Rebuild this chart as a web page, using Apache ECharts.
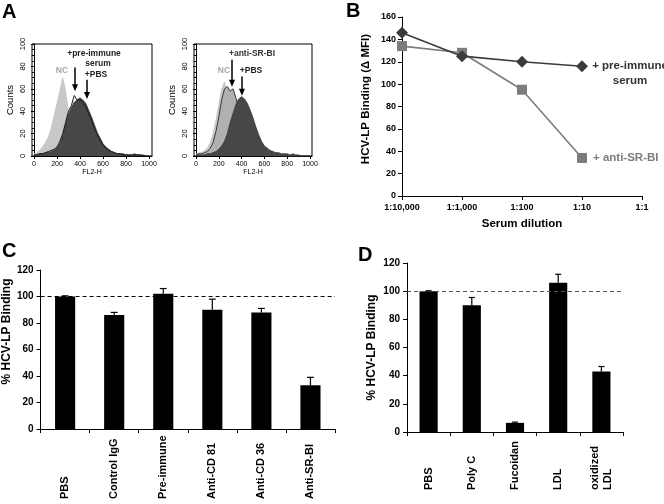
<!DOCTYPE html>
<html><head><meta charset="utf-8">
<script src="https://cdn.jsdelivr.net/npm/echarts@6/dist/echarts.min.js"></script>
<style>html,body{margin:0;padding:0;background:#fff}#c{width:664px;height:504px}</style>
</head><body><div id="c"></div>
<script>
const F = '"Liberation Sans", Arial, Helvetica, sans-serif';

// ---------- Panel A: flow cytometry histograms (FL2-H bins) ----------
const histBins = [0,25,50,75,100,125,150,175,200,225,250,275,300,325,350,375,400,425,450,475,500,525,550,575,600,625,650,675,700,725,750,775,800,825,850,875,900,925,950,975,1000];
const histTicks = [0,200,400,600,800,1000];
const leftNC      = [2,3,5,8,12,17,25,36,47,58,70,58,40,22,10,4,2,1,0,0,0,0,0,0,0,0,0,0,0,0,0,0,0,0,0,0,0,0,0,0,0];
const leftPBS     = [1,1,2,2,3,3,4,5,7,11,18,28,37,43,48,50,52,50,47,41,35,28,21,16,11,8,6,4,3,2,2,2,1,1,1,2,1,1,1,0,0];
const leftPre     = [1,1,2,2,3,4,5,6,8,13,20,30,40,45,54,50,50,48,44,38,32,25,19,14,10,7,5,4,3,2,2,1,1,1,1,1,1,1,0,0,0];
const rightNC     = [2,3,3,5,7,12,20,32,46,60,66,55,40,25,13,6,3,1,0,0,0,0,0,0,0,0,0,0,0,0,0,0,0,0,0,0,0,0,0,0,0];
const rightAnti   = [1,2,2,3,4,7,12,22,35,50,60,62,58,60,52,42,33,25,18,12,8,6,4,3,2,2,1,1,1,1,0,0,0,0,0,0,0,0,0,0,0];
const rightPBS    = [1,1,1,1,2,2,3,4,6,9,13,20,30,38,46,51,53,51,47,41,34,26,19,13,9,7,5,4,3,3,2,2,2,1,2,1,1,0,0,0,0];

// ---------- Panel B: binding vs serum dilution ----------
const dilutions = ['1:10,000','1:1,000','1:100','1:10','1:1'];
const bPreImmune = [146,125,120,116];
const bAntiSRBI  = [134,128,95,34];

// ---------- Panel C ----------
const cCats = ['PBS','Control IgG','Pre-immune','Anti-CD 81','Anti-CD 36','Anti-SR-BI'];
const cVals = [100,86,102,90,88,33];
const cErr  = [0.5,2,4,8,3,6];

// ---------- Panel D ----------
const dCats = ['PBS','Poly C','Fucoidan','LDL','oxidized\nLDL'];
const dVals = [100,90,6.5,106,43];
const dErr  = [0.3,5.5,0.5,6,3.5];

const zip = (xs, ys) => xs.map((x, i) => [x, ys[i]]);

function errRender(params, api) {
  const x = api.value(0), v = api.value(1), e = api.value(2);
  const p1 = api.coord([x, v]);
  const p2 = api.coord([x, v + e]);
  const hw = api.size([1, 0])[0] * 0.07;
  const st = {stroke: '#000', lineWidth: 1.2};
  return {type: 'group', children: [
    {type: 'line', shape: {x1: p1[0], y1: p1[1], x2: p2[0], y2: p2[1]}, style: st},
    {type: 'line', shape: {x1: p2[0] - hw, y1: p2[1], x2: p2[0] + hw, y2: p2[1]}, style: st}
  ]};
}

const axLine = {show: true, lineStyle: {color: '#000', width: 1}};
const boldLbl = (sz) => ({color: '#000', fontFamily: F, fontWeight: 'bold', fontSize: sz});

function histX(gi, min, max) {
  return {gridIndex: gi, type: 'value', min: min, max: max,
    axisLine: axLine, splitLine: {show: false},
    axisTick: {show: true, length: 3, customValues: histTicks, lineStyle: {color: '#000'}},
    axisLabel: {customValues: histTicks, formatter: (v) => String(Math.round(v)), margin: 5, color: '#000', fontFamily: F, fontSize: 7},
    name: 'FL2-H', nameLocation: 'middle', nameGap: 12,
    nameTextStyle: {color: '#000', fontFamily: F, fontSize: 7}};
}
function histY(gi) {
  return {gridIndex: gi, type: 'value', min: 0, max: 100, interval: 20,
    axisLine: axLine, splitLine: {show: false},
    axisTick: {show: true, length: 3, lineStyle: {color: '#000'}},
    minorTick: {show: true, splitNumber: 4, length: 2, lineStyle: {color: '#000'}},
    axisLabel: {rotate: 90, margin: 5, color: '#000', fontFamily: F, fontSize: 7.5},
    name: 'Counts', nameLocation: 'middle', nameGap: 17,
    nameTextStyle: {color: '#000', fontFamily: F, fontSize: 9.5}};
}
function histSeries(gi, data, fill, line, lw, z) {
  const s = {type: 'line', xAxisIndex: gi, yAxisIndex: gi, data: zip(histBins, data),
    symbol: 'none', smooth: false, z: z,
    lineStyle: {color: line, width: lw}};
  if (fill) s.areaStyle = {color: fill, opacity: 1};
  return s;
}
function arrowLine(gi, x, y1, y2) {
  return {type: 'line', xAxisIndex: gi, yAxisIndex: gi, data: [], z: 10,
    markLine: {silent: true, symbol: ['none', 'triangle'], symbolSize: [6, 7],
      lineStyle: {color: '#000', width: 1.5, type: 'solid'}, label: {show: false},
      data: [[{coord: [x, y1]}, {coord: [x, y2]}]]}};
}

const chart = echarts.init(document.getElementById('c'), null, {renderer: 'canvas'});
chart.setOption({
  animation: false,
  backgroundColor: '#fff',
  grid: [
    {left: 32, top: 44, width: 120, height: 112, show: true, borderColor: '#000', borderWidth: 1},
    {left: 194, top: 44, width: 118, height: 112, show: true, borderColor: '#000', borderWidth: 1},
    {left: 402, top: 17, width: 240, height: 179},
    {left: 40, top: 270, width: 295, height: 159},
    {left: 407, top: 263, width: 216, height: 169}
  ],
  xAxis: [
    histX(0, -17, 1026),
    histX(1, -17.5, 1017.5),
    {gridIndex: 2, type: 'category', data: dilutions, boundaryGap: false,
      axisLine: axLine, axisTick: {show: true, length: 4, alignWithLabel: true, lineStyle: {color: '#000'}},
      axisLabel: Object.assign({interval: 0, margin: 7}, boldLbl(9)),
      name: 'Serum dilution', nameLocation: 'middle', nameGap: 22,
      nameTextStyle: boldLbl(11.5)},
    {gridIndex: 3, type: 'category', data: cCats,
      axisLine: axLine, axisTick: {show: true, length: 4, lineStyle: {color: '#000'}},
      axisLabel: Object.assign({interval: 0, rotate: 90, align: 'left', margin: 70}, boldLbl(11))},
    {gridIndex: 4, type: 'category', data: dCats,
      axisLine: axLine, axisTick: {show: true, length: 4, lineStyle: {color: '#000'}},
      axisLabel: Object.assign({interval: 0, rotate: 90, align: 'left', margin: 58, lineHeight: 13}, boldLbl(11))}
  ],
  yAxis: [
    histY(0), histY(1),
    {gridIndex: 2, type: 'value', min: 0, max: 160, interval: 20,
      axisLine: axLine, splitLine: {show: false},
      axisTick: {show: true, length: 4, lineStyle: {color: '#000'}},
      axisLabel: Object.assign({margin: 6}, boldLbl(9)),
      name: 'HCV-LP Binding (\u0394 MFI)', nameLocation: 'middle', nameGap: 30,
      nameTextStyle: Object.assign({padding: [0, 0, 0, 15]}, boldLbl(11.5))},
    {gridIndex: 3, type: 'value', min: 0, max: 120, interval: 20,
      axisLine: axLine, splitLine: {show: false},
      axisTick: {show: true, length: 4, lineStyle: {color: '#000'}},
      axisLabel: Object.assign({margin: 7}, boldLbl(10)),
      name: '% HCV-LP Binding', nameLocation: 'middle', nameGap: 23,
      nameTextStyle: Object.assign({padding: [0, 0, 0, 36]}, boldLbl(12))},
    {gridIndex: 4, type: 'value', min: 0, max: 120, interval: 20,
      axisLine: axLine, splitLine: {show: false},
      axisTick: {show: true, length: 4, lineStyle: {color: '#000'}},
      axisLabel: Object.assign({margin: 7}, boldLbl(10)),
      name: '% HCV-LP Binding', nameLocation: 'middle', nameGap: 29,
      nameTextStyle: boldLbl(12)}
  ],
  series: [
    // Panel A left
    histSeries(0, leftNC, '#c8c8c8', '#b8b8b8', 0.6, 2),
    histSeries(0, leftPBS, '#474747', '#333333', 0.8, 3),
    histSeries(0, leftPre, null, '#1a1a1a', 1, 4),
    arrowLine(0, 357, 79, 61),
    arrowLine(0, 461, 68, 54),
    // Panel A right
    histSeries(1, rightNC, '#c8c8c8', '#b8b8b8', 0.6, 2),
    histSeries(1, rightAnti, '#b0b0b0', '#3a3a3a', 1, 3),
    histSeries(1, rightPBS, '#474747', '#333333', 0.8, 4),
    arrowLine(1, 316, 86, 65),
    arrowLine(1, 403, 71, 57),
    // Panel B
    {type: 'line', name: '+ pre-immune serum', xAxisIndex: 2, yAxisIndex: 2,
      data: bPreImmune.map((v, i) => i === bPreImmune.length - 1 ? {value: v, label: {show: true}} : v),
      symbol: 'diamond', symbolSize: 12, color: '#3b3b3b', lineStyle: {width: 1.6, color: '#3b3b3b'}, z: 4,
      label: {show: false, position: 'right', distance: 4, offset: [0, 7],
        formatter: '{a|+ pre-immune}\n{a|serum}',
        rich: {a: {width: 76, align: 'center', fontFamily: F, fontWeight: 'bold', fontSize: 11.5, color: '#333', lineHeight: 15}}}},
    {type: 'line', name: '+ anti-SR-BI', xAxisIndex: 2, yAxisIndex: 2,
      data: bAntiSRBI.map((v, i) => i === bAntiSRBI.length - 1 ? {value: v, label: {show: true}} : v),
      symbol: 'rect', symbolSize: 10, color: '#7c7c7c', lineStyle: {width: 1.6, color: '#7c7c7c'}, z: 3,
      label: {show: false, position: 'right', distance: 6, formatter: '+ anti-SR-BI',
        fontFamily: F, fontWeight: 'bold', fontSize: 11.5, color: '#7c7c7c'}},
    // Panel C
    {type: 'bar', xAxisIndex: 3, yAxisIndex: 3, data: cVals, barWidth: '41%',
      itemStyle: {color: '#000'},
      markLine: {silent: true, symbol: 'none', label: {show: false},
        lineStyle: {color: '#000', width: 1.2, type: [4, 3]}, data: [{yAxis: 100}]}},
    {type: 'custom', xAxisIndex: 3, yAxisIndex: 3, renderItem: errRender, z: 5,
      data: cVals.map((v, i) => [i, v, cErr[i]])},
    // Panel D
    {type: 'bar', xAxisIndex: 4, yAxisIndex: 4, data: dVals, barWidth: '42%',
      itemStyle: {color: '#000'},
      markLine: {silent: true, symbol: 'none', label: {show: false},
        lineStyle: {color: '#555', width: 1.2, type: [4, 3]}, data: [{yAxis: 100}]}},
    {type: 'custom', xAxisIndex: 4, yAxisIndex: 4, renderItem: errRender, z: 5,
      data: dVals.map((v, i) => [i, v, dErr[i]])}
  ],
  graphic: [
    {type: 'text', left: 2, top: 2, style: {text: 'A', font: 'bold 20px ' + F, fill: '#000'}},
    {type: 'text', left: 346, top: 1, style: {text: 'B', font: 'bold 20px ' + F, fill: '#000'}},
    {type: 'text', left: 2, top: 241, style: {text: 'C', font: 'bold 20px ' + F, fill: '#000'}},
    {type: 'text', left: 358, top: 245, style: {text: 'D', font: 'bold 20px ' + F, fill: '#000'}},
    // Panel A annotations
    {type: 'text', x: 94, y: 54, style: {text: '+pre-immune', font: 'bold 8.5px ' + F, fill: '#222', align: 'center', verticalAlign: 'middle'}},
    {type: 'text', x: 98, y: 64, style: {text: 'serum', font: 'bold 8.5px ' + F, fill: '#222', align: 'center', verticalAlign: 'middle'}},
    {type: 'text', x: 96, y: 75, style: {text: '+PBS', font: 'bold 8.5px ' + F, fill: '#222', align: 'center', verticalAlign: 'middle'}},
    {type: 'text', x: 62, y: 71, style: {text: 'NC', font: 'bold 8.5px ' + F, fill: '#a8a8a8', align: 'center', verticalAlign: 'middle'}},
    {type: 'text', x: 252, y: 54, style: {text: '+anti-SR-BI', font: 'bold 8.5px ' + F, fill: '#333', align: 'center', verticalAlign: 'middle'}},
    {type: 'text', x: 224, y: 71, style: {text: 'NC', font: 'bold 8.5px ' + F, fill: '#a8a8a8', align: 'center', verticalAlign: 'middle'}},
    {type: 'text', x: 251, y: 71, style: {text: '+PBS', font: 'bold 8.5px ' + F, fill: '#222', align: 'center', verticalAlign: 'middle'}}
  ]
});
</script></body></html>
